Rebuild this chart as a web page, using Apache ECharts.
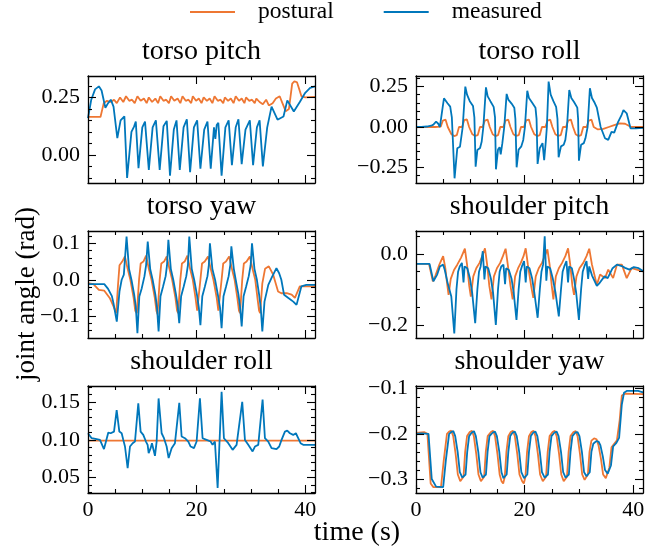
<!DOCTYPE html>
<html><head><meta charset="utf-8">
<script src="https://cdn.jsdelivr.net/npm/echarts@6/dist/echarts.min.js"></script>
<style>html,body{margin:0;padding:0;background:#fff}#c{width:663px;height:548px}</style>
</head><body><div id="c"></div>
<script>
// ---------------- DATA ----------------
const seriesNames = ['postural', 'measured'];
const panelTitles = ['torso pitch', 'torso roll', 'torso yaw', 'shoulder pitch', 'shoulder roll', 'shoulder yaw'];
const xLimits = [0, 41.8];
const xTicksMajor = [0, 20, 40];
const xTicksMinor = [5, 10, 15, 25, 30, 35];

const yLimTorsoPitch = [-0.122, 0.343];
const yMajorTorsoPitch = [0, 0.25];
const yMinorTorsoPitch = [-0.1, -0.05, 0.05, 0.1, 0.15, 0.2, 0.3];
const yLimTorsoRoll = [-0.347, 0.316];
const yMajorTorsoRoll = [-0.25, 0, 0.25];
const yMinorTorsoRoll = [-0.3, -0.2, -0.15, -0.1, -0.05, 0.05, 0.1, 0.15, 0.2, 0.3];
const yLimTorsoYaw = [-0.16, 0.134];
const yMajorTorsoYaw = [-0.1, 0, 0.1];
const yMinorTorsoYaw = [-0.14, -0.12, -0.08, -0.06, -0.04, -0.02, 0.02, 0.04, 0.06, 0.08, 0.12];
const yLimShoulderPitch = [-0.237, 0.065];
const yMajorShoulderPitch = [-0.2, 0];
const yMinorShoulderPitch = [-0.15, -0.1, -0.05, 0.05];
const yLimShoulderRoll = [0.0295, 0.1715];
const yMajorShoulderRoll = [0.05, 0.1, 0.15];
const yMinorShoulderRoll = [0.03, 0.04, 0.06, 0.07, 0.08, 0.09, 0.11, 0.12, 0.13, 0.14, 0.16, 0.17];
const yLimShoulderYaw = [-0.331, -0.094];
const yMajorShoulderYaw = [-0.3, -0.2, -0.1];
const yMinorShoulderYaw = [-0.32, -0.28, -0.26, -0.24, -0.22, -0.18, -0.16, -0.14, -0.12];

// torso pitch
const tTorsoPitchPostural = [0, 2.3, 2.9, 3.5, 4.2, 4.8, 5.3, 5.9, 6.5, 7.0, 7.6, 8.1, 8.6, 9.1, 9.7, 10.3, 10.8, 11.2, 11.8, 12.4, 12.9, 13.3, 13.9, 14.4, 14.9, 15.3, 15.9, 16.5, 17.0, 17.4, 18.0, 18.5, 19.0, 19.3, 19.9, 20.4, 20.9, 21.3, 21.9, 22.4, 22.9, 23.3, 23.9, 24.4, 24.9, 25.2, 25.8, 26.3, 26.8, 27.2, 27.8, 28.3, 28.8, 29.1, 29.7, 30.2, 30.7, 31.0, 31.6, 32.2, 32.8, 33.3, 34.0, 34.6, 35.3, 35.8, 36.4, 37.0, 37.6, 38.0, 38.5, 38.9, 39.3, 40.0, 41.8];
const vTorsoPitchPostural = [0.165, 0.165, 0.225, 0.235, 0.23, 0.24, 0.225, 0.25, 0.23, 0.255, 0.235, 0.24, 0.225, 0.255, 0.235, 0.245, 0.225, 0.25, 0.23, 0.245, 0.225, 0.255, 0.235, 0.24, 0.225, 0.255, 0.235, 0.245, 0.225, 0.255, 0.235, 0.24, 0.225, 0.255, 0.235, 0.245, 0.225, 0.25, 0.235, 0.245, 0.225, 0.255, 0.235, 0.24, 0.225, 0.25, 0.235, 0.245, 0.225, 0.255, 0.235, 0.245, 0.225, 0.25, 0.235, 0.24, 0.225, 0.245, 0.23, 0.22, 0.24, 0.215, 0.225, 0.245, 0.255, 0.225, 0.19, 0.2, 0.31, 0.32, 0.315, 0.285, 0.255, 0.25, 0.252];
const tTorsoPitchMeasured = [0, 0.6, 1.3, 2.0, 2.5, 3.2, 3.7, 4.2, 4.7, 5.4, 6.0, 6.7, 7.2, 8.0, 8.5, 8.8, 9.3, 10.0, 10.5, 11.2, 11.9, 12.5, 13.2, 13.9, 14.5, 15.1, 15.8, 16.3, 16.9, 17.6, 18.2, 18.8, 19.5, 20.1, 20.7, 21.4, 22.0, 22.6, 23.2, 23.45, 23.7, 24.0, 24.6, 25.3, 25.9, 26.5, 27.2, 27.7, 28.3, 29.0, 29.8, 30.4, 31.1, 31.6, 32.2, 33.0, 33.8, 34.9, 36.0, 36.7, 37.9, 39.0, 40.0, 40.9, 41.8];
const vTorsoPitchMeasured = [0.16, 0.24, 0.285, 0.298, 0.28, 0.205, 0.225, 0.24, 0.21, 0.073, 0.15, 0.168, -0.10, 0.10, 0.124, 0.145, -0.058, 0.12, 0.145, -0.065, 0.12, 0.15, -0.065, 0.125, 0.148, -0.09, 0.11, 0.15, -0.065, 0.12, 0.155, -0.075, 0.12, 0.15, -0.06, 0.11, 0.145, -0.06, 0.12, 0.07, 0.13, 0.14, -0.09, 0.12, 0.15, -0.045, 0.12, 0.155, -0.04, 0.11, 0.15, -0.045, 0.12, 0.15, -0.05, 0.12, 0.21, 0.153, 0.167, 0.237, 0.189, 0.23, 0.27, 0.291, 0.298];

// torso roll
const tTorsoRollPostural = [0, 3.5, 4.55, 4.95, 5.45, 5.85, 6.52, 7.02, 7.52, 7.92, 8.48, 8.88, 9.38, 9.78, 10.38, 10.88, 11.38, 11.78, 12.28, 12.68, 13.18, 13.58, 14.12, 14.62, 15.12, 15.52, 16.09, 16.49, 16.99, 17.39, 17.93, 18.43, 18.93, 19.33, 19.89, 20.29, 20.79, 21.19, 21.79, 22.29, 22.79, 23.19, 23.82, 24.22, 24.72, 25.12, 25.66, 26.16, 26.66, 27.06, 27.62, 28.02, 28.52, 28.92, 29.4, 29.9, 30.4, 30.8, 31.42, 31.82, 32.32, 32.72, 33.5, 34.5, 35.5, 36.5, 37.5, 38.5, 39.6, 41.8];
const vTorsoRollPostural = [0, 0, 0.002, 0.04, 0.045, 0.0, -0.045, -0.056, -0.05, 0.0, 0.0, 0.042, 0.047, 0.0, -0.045, -0.055, -0.05, 0.0, 0.0, 0.04, 0.046, 0.0, -0.045, -0.056, -0.05, 0.0, 0.0, 0.04, 0.045, 0.0, -0.045, -0.055, -0.05, 0.0, 0.0, 0.041, 0.046, 0.0, -0.045, -0.056, -0.05, 0.0, 0.0, 0.04, 0.045, 0.0, -0.045, -0.055, -0.05, 0.0, 0.0, 0.04, 0.046, 0.0, -0.045, -0.056, -0.05, 0.0, 0.0, 0.04, 0.045, 0.0, -0.015, -0.012, 0.0, 0.012, 0.022, 0.02, 0.0, 0.0];
const tTorsoRollMeasured = [0, 1.0, 2.0, 2.8, 3.2, 3.7, 4.1, 4.4, 4.9, 5.15, 5.8, 6.3, 6.6, 7.1, 7.6, 8.1, 8.6, 9.08, 9.4, 9.9, 10.5, 10.75, 10.98, 11.3, 11.8, 12.1, 12.4, 12.88, 13.2, 13.7, 14.3, 14.55, 14.72, 15.1, 15.4, 15.6, 15.9, 16.25, 16.69, 17.0, 17.6, 18.1, 18.3, 18.53, 18.9, 19.4, 19.75, 20.06, 20.49, 20.8, 21.4, 22.0, 22.2, 22.39, 22.8, 23.3, 23.6, 23.9, 24.1, 24.42, 24.8, 25.3, 25.8, 26.05, 26.26, 26.7, 27.2, 27.5, 27.8, 28.22, 28.6, 29.1, 29.7, 29.85, 30.0, 30.4, 30.9, 31.2, 31.6, 32.02, 32.4, 32.9, 33.3, 34.0, 34.8, 35.4, 36.0, 36.5, 37.2, 37.8, 38.2, 38.8, 39.5, 40.5, 41.8];
const vTorsoRollMeasured = [0, 0, 0.003, 0.008, 0.015, 0.033, 0.02, 0, 0.12, 0.178, 0.147, 0.126, 0.06, -0.318, -0.132, -0.122, 0, 0.25, 0.2, 0.16, 0.13, 0.06, -0.246, -0.143, -0.13, -0.09, 0, 0.246, 0.19, 0.16, 0.125, 0.06, -0.262, -0.14, -0.125, -0.17, -0.1, 0, 0.205, 0.17, 0.145, 0.12, 0.05, -0.25, -0.14, -0.12, -0.08, 0, 0.225, 0.18, 0.15, 0.12, 0.05, -0.229, -0.13, -0.1, -0.205, -0.09, 0, 0.281, 0.2, 0.16, 0.125, 0.05, -0.188, -0.12, -0.11, -0.08, 0, 0.229, 0.18, 0.155, 0.12, 0.05, -0.209, -0.11, -0.1, -0.07, 0, 0.24, 0.18, 0.15, 0.12, 0, -0.07, -0.08, -0.03, -0.035, 0.03, 0.07, 0.105, 0.085, -0.008, -0.008, -0.005];

// torso yaw
const tTorsoYawPostural = [0, 1.0, 2.0, 3.0, 4.0, 4.7, 5.2, 5.5, 5.8, 6.3, 6.8, 7.3, 7.8, 8.4, 8.7, 9.0, 9.4, 9.7, 10.2, 10.7, 11.2, 11.7, 12.3, 12.6, 12.8, 13.2, 13.5, 14.0, 14.5, 15.0, 15.5, 16.1, 16.4, 16.6, 17.0, 17.3, 17.8, 18.3, 18.8, 19.3, 19.8, 20.1, 20.3, 20.7, 21.0, 21.5, 22.1, 22.6, 23.1, 23.7, 24.0, 24.2, 24.6, 24.9, 25.4, 26.0, 26.5, 27.0, 27.5, 27.8, 28.0, 28.4, 28.7, 29.2, 29.8, 30.3, 30.8, 31.2, 31.5, 31.7, 32.1, 32.6, 33.3, 34.1, 35.0, 35.6, 36.6, 37.5, 38.1, 39.0, 41.8];
const vTorsoYawPostural = [-0.009, -0.012, -0.028, -0.03, -0.05, -0.073, -0.092, -0.02, 0.04, 0.05, 0.064, 0.03, 0.0, -0.05, -0.085, -0.092, 0.0, 0.045, 0.05, 0.066, 0.03, 0.0, -0.05, -0.085, -0.095, 0.0, 0.045, 0.05, 0.064, 0.03, 0.0, -0.05, -0.085, -0.092, 0.0, 0.045, 0.05, 0.066, 0.03, 0.0, -0.05, -0.085, -0.09, 0.0, 0.045, 0.05, 0.064, 0.03, 0.0, -0.05, -0.085, -0.09, 0.0, 0.045, 0.05, 0.064, 0.03, 0.0, -0.05, -0.085, -0.092, 0.0, 0.045, 0.05, 0.064, 0.03, 0.0, -0.05, -0.085, -0.092, -0.01, 0.03, 0.037, 0.014, -0.032, -0.037, -0.037, -0.041, -0.05, -0.018, -0.018];
const tTorsoYawMeasured = [0, 3.0, 3.7, 4.4, 4.7, 5.3, 5.8, 6.2, 6.6, 7.1, 7.55, 8.0, 8.5, 8.8, 9.1, 9.45, 9.9, 10.4, 10.7, 11.0, 11.45, 11.9, 12.4, 12.7, 13.0, 13.35, 13.8, 14.3, 14.55, 14.8, 15.25, 15.7, 16.2, 16.5, 16.8, 17.15, 17.6, 18.1, 18.4, 18.65, 19.1, 19.55, 20.05, 20.4, 20.7, 21.05, 21.5, 22.0, 22.25, 22.45, 22.9, 23.4, 23.9, 24.3, 24.6, 24.95, 25.4, 25.9, 26.2, 26.4, 26.85, 27.2, 27.7, 28.0, 28.3, 28.65, 29.1, 29.6, 29.95, 30.2, 30.65, 31.1, 31.5, 31.8, 32.1, 32.5, 33.2, 33.8, 34.7, 35.2, 35.6, 36.1, 36.9, 37.8, 38.4, 39.3, 40.2, 41.8];
const vTorsoYawMeasured = [-0.012, -0.012, -0.025, -0.045, -0.065, -0.115, -0.032, 0.0, 0.014, 0.119, 0.03, 0.0, -0.04, -0.073, -0.147, -0.046, -0.023, 0.01, 0.04, 0.105, 0.03, 0.0, -0.04, -0.075, -0.142, -0.045, -0.02, 0.01, 0.04, 0.11, 0.03, 0.0, -0.04, -0.07, -0.119, -0.045, -0.02, 0.01, 0.04, 0.119, 0.03, 0.0, -0.04, -0.075, -0.125, -0.045, -0.02, 0.01, 0.04, 0.1, 0.03, 0.0, -0.04, -0.075, -0.133, -0.045, -0.02, 0.01, 0.04, 0.092, 0.03, 0.0, -0.04, -0.075, -0.128, -0.045, -0.02, 0.01, 0.04, 0.1, 0.03, 0.0, -0.04, -0.075, -0.142, -0.06, -0.014, 0.005, 0.032, 0.018, 0.0, -0.041, -0.05, -0.06, -0.069, -0.018, -0.014, -0.014];

// shoulder pitch
const tShoulderPitchPostural = [0, 2.4, 3.1, 3.6, 4.3, 5.0, 5.4, 5.7, 6.0, 6.4, 7.0, 7.6, 8.3, 9.0, 9.4, 9.8, 10.1, 10.55, 11.1, 11.7, 12.2, 12.7, 13.1, 13.5, 13.9, 14.35, 14.9, 15.5, 16.0, 16.5, 16.9, 17.4, 17.8, 18.25, 18.8, 19.3, 19.8, 20.2, 20.6, 21.2, 21.6, 22.05, 22.6, 23.2, 23.7, 24.2, 24.6, 25.0, 25.3, 25.75, 26.3, 26.9, 27.5, 28.0, 28.4, 28.8, 29.1, 29.55, 30.1, 30.8, 31.4, 31.9, 32.4, 33.3, 33.9, 34.8, 35.4, 36.3, 37.0, 37.9, 38.8, 39.7, 41.8];
const vShoulderPitchPostural = [-0.028, -0.028, -0.077, -0.06, -0.03, -0.006, -0.04, -0.08, -0.115, -0.07, -0.045, -0.03, -0.01, 0.015, -0.03, -0.09, -0.12, -0.063, -0.04, -0.025, -0.006, 0.016, -0.03, -0.09, -0.128, -0.063, -0.04, -0.025, -0.006, 0.015, -0.03, -0.09, -0.128, -0.063, -0.04, -0.025, -0.006, 0.016, -0.03, -0.09, -0.124, -0.063, -0.04, -0.025, -0.006, 0.013, -0.03, -0.09, -0.128, -0.063, -0.04, -0.025, -0.006, 0.016, -0.03, -0.09, -0.115, -0.063, -0.04, -0.025, -0.006, 0.015, -0.03, -0.087, -0.058, -0.068, -0.044, -0.068, -0.03, -0.03, -0.068, -0.04, -0.049];
const tShoulderPitchMeasured = [0, 2.5, 3.2, 3.9, 4.4, 5.0, 5.3, 5.8, 6.5, 7.05, 7.45, 7.75, 8.05, 8.45, 8.75, 8.95, 9.45, 9.95, 10.35, 10.9, 11.3, 11.6, 11.9, 12.3, 12.6, 12.8, 13.3, 13.8, 14.2, 14.7, 15.1, 15.4, 15.7, 16.1, 16.4, 16.6, 17.1, 17.6, 18.0, 18.5, 18.9, 19.2, 19.5, 19.9, 20.2, 20.4, 20.9, 21.4, 21.8, 22.4, 22.8, 23.1, 23.4, 23.7, 24.0, 24.2, 24.7, 25.2, 25.7, 26.3, 26.7, 27.0, 27.3, 27.7, 28.0, 28.2, 28.7, 29.1, 29.5, 30.0, 30.4, 30.7, 31.0, 31.4, 31.7, 31.9, 32.4, 33.3, 33.8, 34.7, 35.3, 36.2, 37.0, 37.9, 38.5, 39.3, 40.1, 41.0, 41.8];
const vShoulderPitchMeasured = [-0.028, -0.028, -0.077, -0.058, -0.035, -0.03, -0.045, -0.08, -0.12, -0.224, -0.1, -0.05, -0.035, -0.025, -0.08, -0.035, -0.04, -0.07, -0.11, -0.195, -0.1, -0.05, -0.035, 0.008, -0.072, -0.035, -0.04, -0.07, -0.11, -0.2, -0.1, -0.05, -0.035, -0.03, -0.085, -0.04, -0.045, -0.07, -0.11, -0.186, -0.1, -0.05, -0.035, -0.02, -0.08, -0.035, -0.04, -0.07, -0.11, -0.18, -0.1, -0.05, -0.03, 0.05, -0.075, -0.035, -0.04, -0.07, -0.11, -0.176, -0.1, -0.05, -0.035, -0.02, -0.08, -0.035, -0.04, -0.07, -0.11, -0.186, -0.1, -0.05, -0.035, -0.02, -0.07, -0.035, -0.06, -0.09, -0.082, -0.063, -0.068, -0.04, -0.03, -0.034, -0.039, -0.044, -0.037, -0.04, -0.048];

// shoulder roll
const tShoulderRollPostural = [0, 41.8];
const vShoulderRollPostural = [0.0991, 0.0991];
const tShoulderRollMeasured = [0, 0.67, 1.6, 2.2, 2.5, 2.94, 3.31, 3.74, 4.17, 4.48, 4.79, 5.28, 5.77, 6.2, 6.5, 6.81, 7.3, 7.73, 8.22, 8.65, 9.26, 9.69, 10.18, 10.67, 10.98, 11.17, 11.53, 11.78, 12.33, 12.64, 13.0, 13.56, 13.99, 14.48, 14.85, 15.4, 16.01, 16.81, 17.24, 17.85, 18.47, 18.9, 19.51, 20.0, 20.61, 21.1, 21.84, 22.58, 22.94, 23.37, 23.87, 24.6, 25.03, 25.83, 26.63, 27.36, 28.4, 28.9, 29.51, 30.31, 30.74, 31.35, 32.15, 32.58, 33.19, 33.8, 34.72, 35.21, 35.64, 36.26, 36.69, 37.18, 37.79, 38.28, 38.71, 39.14, 39.63, 41.8];
const vShoulderRollMeasured = [0.1088, 0.1022, 0.1009, 0.1, 0.0978, 0.0877, 0.0978, 0.1097, 0.1088, 0.1066, 0.111, 0.1396, 0.111, 0.1088, 0.1, 0.0912, 0.0626, 0.0912, 0.0956, 0.0978, 0.1484, 0.111, 0.1066, 0.0978, 0.0934, 0.0824, 0.089, 0.0956, 0.0789, 0.0978, 0.155, 0.1088, 0.1022, 0.0912, 0.0758, 0.089, 0.0956, 0.1492, 0.1044, 0.1022, 0.0978, 0.0912, 0.089, 0.0978, 0.155, 0.1022, 0.1, 0.0978, 0.0934, 0.0978, 0.0363, 0.1637, 0.1022, 0.0956, 0.0868, 0.0934, 0.1505, 0.1, 0.0934, 0.0846, 0.0912, 0.0934, 0.1536, 0.1022, 0.0978, 0.089, 0.0877, 0.0912, 0.1, 0.111, 0.1123, 0.1088, 0.1066, 0.1088, 0.1022, 0.0956, 0.0934, 0.0934];

// shoulder yaw
const tShoulderYawPostural = [0, 1.5, 2.1, 2.7, 3.2, 4.6, 5.1, 5.7, 6.1, 6.5, 6.85, 7.3, 7.7, 8.15, 8.45, 8.75, 9.05, 9.4, 9.9, 10.3, 10.65, 11.1, 11.5, 11.95, 12.25, 12.55, 12.85, 13.2, 13.8, 14.2, 14.55, 15.0, 15.4, 15.75, 16.05, 16.35, 16.65, 17.0, 17.45, 17.85, 18.2, 18.65, 19.05, 19.55, 19.85, 20.15, 20.45, 20.8, 21.25, 21.65, 22.0, 22.45, 22.85, 23.35, 23.65, 23.95, 24.25, 24.6, 25.15, 25.55, 25.9, 26.35, 26.75, 27.2, 27.5, 27.8, 28.1, 28.45, 29.0, 29.4, 29.75, 30.2, 30.6, 31.05, 31.35, 31.65, 31.95, 32.3, 32.8, 33.25, 33.6, 34.05, 34.45, 34.95, 35.25, 35.6, 36.0, 36.5, 37.0, 37.5, 37.9, 38.5, 41.8];
const vShoulderYawPostural = [-0.198, -0.196, -0.2, -0.31, -0.318, -0.318, -0.26, -0.2, -0.195, -0.193, -0.205, -0.245, -0.29, -0.305, -0.308, -0.295, -0.24, -0.205, -0.196, -0.193, -0.205, -0.245, -0.29, -0.305, -0.308, -0.295, -0.24, -0.205, -0.196, -0.193, -0.205, -0.245, -0.29, -0.305, -0.31, -0.295, -0.24, -0.205, -0.196, -0.193, -0.205, -0.245, -0.29, -0.305, -0.31, -0.295, -0.24, -0.205, -0.196, -0.193, -0.205, -0.245, -0.29, -0.305, -0.308, -0.295, -0.24, -0.205, -0.196, -0.193, -0.205, -0.245, -0.29, -0.305, -0.308, -0.295, -0.24, -0.205, -0.196, -0.194, -0.205, -0.245, -0.29, -0.302, -0.305, -0.29, -0.24, -0.215, -0.21, -0.212, -0.225, -0.255, -0.29, -0.298, -0.3, -0.275, -0.23, -0.222, -0.214, -0.17, -0.115, -0.111, -0.112];
const tShoulderYawMeasured = [0, 1.0, 2.3, 2.9, 3.7, 5.0, 5.5, 6.1, 6.5, 6.87, 7.22, 7.67, 8.07, 8.53, 8.83, 9.13, 9.43, 9.78, 10.27, 10.67, 11.02, 11.47, 11.87, 12.28, 12.58, 12.88, 13.18, 13.53, 14.14, 14.54, 14.89, 15.34, 15.74, 16.1, 16.4, 16.7, 17.0, 17.35, 17.8, 18.2, 18.55, 19.0, 19.4, 19.9, 20.2, 20.5, 20.8, 21.15, 21.6, 22.0, 22.35, 22.8, 23.2, 23.7, 24.0, 24.3, 24.6, 24.95, 25.5, 25.9, 26.25, 26.7, 27.1, 27.55, 27.85, 28.15, 28.45, 28.8, 29.35, 29.75, 30.1, 30.55, 30.95, 31.4, 31.7, 32.0, 32.3, 32.65, 33.2, 33.6, 33.95, 34.4, 34.8, 35.3, 35.6, 35.9, 36.3, 36.9, 37.4, 37.9, 38.3, 38.8, 40.9, 41.8];
const vShoulderYawMeasured = [-0.2, -0.199, -0.2, -0.3, -0.317, -0.318, -0.258, -0.2, -0.196, -0.194, -0.205, -0.24, -0.285, -0.297, -0.3, -0.29, -0.24, -0.205, -0.197, -0.194, -0.205, -0.24, -0.285, -0.297, -0.3, -0.29, -0.24, -0.205, -0.197, -0.195, -0.205, -0.24, -0.285, -0.298, -0.301, -0.29, -0.24, -0.205, -0.197, -0.195, -0.205, -0.24, -0.285, -0.298, -0.302, -0.29, -0.24, -0.205, -0.197, -0.195, -0.205, -0.24, -0.285, -0.297, -0.3, -0.29, -0.24, -0.205, -0.197, -0.195, -0.205, -0.24, -0.285, -0.297, -0.3, -0.29, -0.24, -0.205, -0.197, -0.196, -0.205, -0.24, -0.285, -0.294, -0.297, -0.285, -0.24, -0.222, -0.216, -0.217, -0.225, -0.25, -0.28, -0.288, -0.29, -0.27, -0.228, -0.22, -0.209, -0.135, -0.109, -0.105, -0.105, -0.108];

// ---------------- LAYOUT / STYLE ----------------
const FONT = 'Liberation Serif';
const COLORS = ['#EE7733', '#0077BB'];
const gridPos = [[88, 76], [416, 76], [88, 231], [416, 231], [88, 386], [416, 386]];
const GW = 227, GH = 107;

const panels = [
  {lim: yLimTorsoPitch, major: yMajorTorsoPitch, minor: yMinorTorsoPitch, dec: 2, data: [[tTorsoPitchPostural, vTorsoPitchPostural], [tTorsoPitchMeasured, vTorsoPitchMeasured]]},
  {lim: yLimTorsoRoll, major: yMajorTorsoRoll, minor: yMinorTorsoRoll, dec: 2, data: [[tTorsoRollPostural, vTorsoRollPostural], [tTorsoRollMeasured, vTorsoRollMeasured]]},
  {lim: yLimTorsoYaw, major: yMajorTorsoYaw, minor: yMinorTorsoYaw, dec: 1, data: [[tTorsoYawPostural, vTorsoYawPostural], [tTorsoYawMeasured, vTorsoYawMeasured]]},
  {lim: yLimShoulderPitch, major: yMajorShoulderPitch, minor: yMinorShoulderPitch, dec: 1, data: [[tShoulderPitchPostural, vShoulderPitchPostural], [tShoulderPitchMeasured, vShoulderPitchMeasured]]},
  {lim: yLimShoulderRoll, major: yMajorShoulderRoll, minor: yMinorShoulderRoll, dec: 2, data: [[tShoulderRollPostural, vShoulderRollPostural], [tShoulderRollMeasured, vShoulderRollMeasured]]},
  {lim: yLimShoulderYaw, major: yMajorShoulderYaw, minor: yMinorShoulderYaw, dec: 1, data: [[tShoulderYawPostural, vShoulderYawPostural], [tShoulderYawMeasured, vShoulderYawMeasured]]}
];

function fmt(v, d) {
  const s = Math.abs(v).toFixed(d);
  return (v < -1e-9 ? '\u2212' : '') + s;
}

function makeAxis(gi, pos, lim, ticks, len, showLine, labels, dec) {
  return {
    type: 'value', gridIndex: gi, position: pos, min: lim[0], max: lim[1],
    axisLine: {show: showLine, onZero: false, lineStyle: {color: '#000', width: 1.3}},
    axisTick: {show: true, inside: true, length: len, customValues: ticks, lineStyle: {color: '#000', width: 1.1}},
    axisLabel: labels ? {show: true, customValues: labels, formatter: (v) => fmt(v, dec),
      fontFamily: FONT, fontSize: 22, color: '#000', margin: (pos === 'bottom' ? 6 : 8)} : {show: false},
    splitLine: {show: false}, minorTick: {show: false}, minorSplitLine: {show: false},
    axisPointer: {show: false}, z: 5
  };
}

const grids = [], xAxes = [], yAxes = [], series = [], titles = [];
panels.forEach((p, i) => {
  const [gx, gy] = gridPos[i];
  grids.push({left: gx, top: gy, width: GW, height: GH, containLabel: false});
  const bottomRow = i >= 4;
  xAxes.push(makeAxis(i, 'bottom', xLimits, xTicksMajor, 8, true, bottomRow ? xTicksMajor : null, 0));
  xAxes.push(makeAxis(i, 'top', xLimits, xTicksMajor, 8, true, null, 0));
  xAxes.push(makeAxis(i, 'bottom', xLimits, xTicksMinor, 4, false, null, 0));
  xAxes.push(makeAxis(i, 'top', xLimits, xTicksMinor, 4, false, null, 0));
  yAxes.push(makeAxis(i, 'left', p.lim, p.major, 8, true, p.major, p.dec));
  yAxes.push(makeAxis(i, 'right', p.lim, p.major, 8, true, null, p.dec));
  yAxes.push(makeAxis(i, 'left', p.lim, p.minor, 4, false, null, p.dec));
  yAxes.push(makeAxis(i, 'right', p.lim, p.minor, 4, false, null, p.dec));
  p.data.forEach((d, k) => {
    series.push({
      type: 'line', name: seriesNames[k], xAxisIndex: 4 * i, yAxisIndex: 4 * i,
      data: d[0].map((t, j) => [t, d[1][j]]),
      symbol: 'none', showSymbol: false, clip: true, silent: true,
      lineStyle: {width: 1.8, color: COLORS[k]}, itemStyle: {color: COLORS[k]},
      emphasis: {disabled: true}, z: 2 + k
    });
  });
  titles.push({
    text: panelTitles[i], left: gx + GW / 2, top: gy - 38, textAlign: 'center', padding: 0,
    textStyle: {fontFamily: FONT, fontSize: 28, fontWeight: 'normal', color: '#000', lineHeight: 28}
  });
});

const chart = echarts.init(document.getElementById('c'), null, {renderer: 'canvas', width: 663, height: 548});
chart.setOption({
  animation: false,
  backgroundColor: '#ffffff',
  textStyle: {fontFamily: FONT},
  title: titles,
  legend: {
    data: seriesNames, left: 190, top: 0, itemWidth: 45, itemHeight: 2, itemGap: 50, icon: 'rect',
    padding: 0, selectedMode: false,
    textStyle: {fontFamily: FONT, fontSize: 23.5, color: '#000', padding: [0, 0, 0, 18]}
  },
  grid: grids,
  xAxis: xAxes,
  yAxis: yAxes,
  series: series,
  graphic: [
    {type: 'text', x: 27, y: 294, rotation: Math.PI / 2,
     style: {text: 'joint angle (rad)', font: '27px "Liberation Serif"', fill: '#000', align: 'center', verticalAlign: 'middle'}},
    {type: 'text', x: 357, y: 533,
     style: {text: 'time (s)', font: '28px "Liberation Serif"', fill: '#000', align: 'center', verticalAlign: 'middle'}}
  ]
});
</script>
</body></html>
